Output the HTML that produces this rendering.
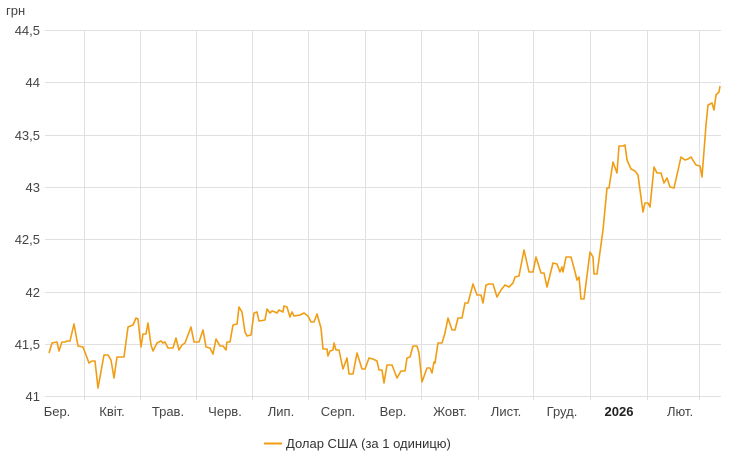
<!DOCTYPE html>
<html><head><meta charset="utf-8"><style>
body{margin:0;background:#fff;}
svg{display:block;font-family:"Liberation Sans",sans-serif;}
</style></head><body>
<svg width="740" height="454" viewBox="0 0 740 454">
<g stroke="#e0e0e0" stroke-width="1">
<line x1="45" x2="721" y1="30.5" y2="30.5"/><line x1="45" x2="721" y1="82.5" y2="82.5"/>
<line x1="45" x2="721" y1="135.5" y2="135.5"/><line x1="45" x2="721" y1="187.5" y2="187.5"/>
<line x1="45" x2="721" y1="239.5" y2="239.5"/><line x1="45" x2="721" y1="292.5" y2="292.5"/>
<line x1="45" x2="721" y1="344.5" y2="344.5"/><line x1="45" x2="721" y1="396.5" y2="396.5"/>
<line x1="84.5" x2="84.5" y1="30" y2="400"/><line x1="140.5" x2="140.5" y1="30" y2="400"/>
<line x1="196.5" x2="196.5" y1="30" y2="400"/><line x1="252.5" x2="252.5" y1="30" y2="400"/>
<line x1="308.5" x2="308.5" y1="30" y2="400"/><line x1="365.5" x2="365.5" y1="30" y2="400"/>
<line x1="421.5" x2="421.5" y1="30" y2="400"/><line x1="478.5" x2="478.5" y1="30" y2="400"/>
<line x1="533.5" x2="533.5" y1="30" y2="400"/><line x1="590.5" x2="590.5" y1="30" y2="400"/>
<line x1="647.5" x2="647.5" y1="30" y2="400"/><line x1="699.5" x2="699.5" y1="30" y2="400"/>
</g>
<g fill="#444" font-size="13" text-anchor="end">
<text x="40" y="35">44,5</text><text x="40" y="87">44</text><text x="40" y="140">43,5</text>
<text x="40" y="192">43</text><text x="40" y="244">42,5</text><text x="40" y="297">42</text>
<text x="40" y="349">41,5</text><text x="40" y="401">41</text>
</g>
<text x="6" y="15" fill="#444" font-size="13">грн</text>
<g fill="#444" font-size="13" text-anchor="middle">
<text x="57" y="416">Бер.</text><text x="112" y="416">Квіт.</text><text x="168" y="416">Трав.</text>
<text x="225" y="416">Черв.</text><text x="281" y="416">Лип.</text><text x="338" y="416">Серп.</text>
<text x="393" y="416">Вер.</text><text x="450" y="416">Жовт.</text><text x="506" y="416">Лист.</text>
<text x="562" y="416">Груд.</text><text x="619" y="416" font-weight="bold" fill="#222">2026</text><text x="680" y="416">Лют.</text>
</g>
<polyline fill="none" stroke="#f09d14" stroke-width="1.6" stroke-linejoin="round" points="49,353 52,343 57,342 59,351 62,342 65,342 67,341 70,341 74,324 78,346 83,347 89,363 92,361 95,361 98,388 104,355 108,355 111,360 114,378 117,357 123,357 124,357 128,327 133,325 136,318 138,319 141,347 143,334 146,334 148,323 151,345 153,351 157,343 161,341 163,343 165,342 168,348 173,348 176,338 179,350 182,345 185,343 191,327 194,342 199,342 203,330 206,347 210,348 213,354 216,339 220,346 223,346 226,350 227,342 230,342 233,325 237,324 239,307 242,312 245,332 247,336 251,335 254,313 257,312 259,321 265,320 267,309 270,313 272,311 275,312 277,313 279,310 283,312 284,306 287,307 290,317 292,312 294,316 300,315 304,313 308,316 311,322 314,322 317,314 321,328 323,349 327,349 328,356 330,351 333,350 334,343 336,350 339,350 343,369 347,358 349,374 353,374 357,353 362,369 365,369 369,358 373,359 377,361 379,370 382,370 384,383 387,365 392,365 397,378 401,371 405,371 407,358 410,357 413,346 417,346 419,353 422,382 427,368 430,368 432,373 434,362 435,363 438,343 442,343 445,333 448,318 452,330 455,330 458,318 462,318 465,303 468,303 473,284 477,295 481,295 483,303 486,285 489,284 493,284 497,297 501,290 505,285 509,287 513,283 515,277 519,276 524,250 529,272 533,272 536,257 541,273 544,273 547,287 553,263 557,264 560,272 562,267 563,272 566,257 571,257 574,268 577,280 579,277 581,299 584,299 590,252 593,257 594,274 597,274 603,230 607,188 609,188 613,162 617,173 619,146 623,146 625,145 627,160 631,169 635,171 638,175 643,212 645,203 648,203 650,207 654,167 657,173 661,173 664,183 667,178 670,187 674,188 681,157 685,160 688,159 691,157 696,165 700,166 702,177 706,125 708,105 712,103 714,110 716,95 719,92 720,86"/>
<line x1="264" x2="282" y1="443.5" y2="443.5" stroke="#f09d14" stroke-width="2"/>
<text x="286" y="448" fill="#333" font-size="13">Долар США (за 1 одиницю)</text>
</svg>
</body></html>
